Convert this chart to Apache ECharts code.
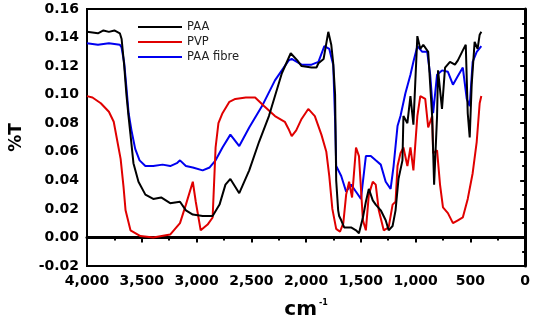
<!DOCTYPE html>
<html>
<head>
<meta charset="utf-8">
<script src="https://cdn.jsdelivr.net/npm/echarts@6/dist/echarts.min.js"></script>
<style>
  html, body { margin: 0; padding: 0; background: #fff; }
  #chart { width: 533px; height: 325px; }
</style>
</head>
<body>
<div id="chart"></div>
<script>
// FTIR spectra, wavenumber (cm-1) vs transmittance
const paaWn = [4000, 3900, 3850, 3800, 3750, 3700, 3684, 3660, 3640, 3621, 3603, 3576, 3530, 3467, 3395, 3323, 3241, 3151, 3097, 3034, 2944, 2853, 2790, 2736, 2691, 2610, 2519, 2429, 2339, 2221, 2140, 2080, 2041, 1950, 1905, 1887, 1840, 1797, 1770, 1752, 1735, 1725, 1707, 1698, 1679, 1652, 1589, 1544, 1517, 1481, 1454, 1427, 1391, 1364, 1318, 1273, 1246, 1210, 1183, 1156, 1120, 1111, 1075, 1047, 1020, 984, 957, 930, 885, 849, 831, 804, 795, 759, 731, 686, 641, 614, 569, 542, 524, 506, 488, 461, 434, 415, 400];
const paaT = [0.144, 0.143, 0.145, 0.144, 0.145, 0.143, 0.139, 0.120, 0.100, 0.085, 0.072, 0.052, 0.039, 0.030, 0.027, 0.028, 0.024, 0.025, 0.019, 0.016, 0.015, 0.015, 0.023, 0.037, 0.041, 0.031, 0.047, 0.067, 0.085, 0.115, 0.129, 0.124, 0.120, 0.119, 0.119, 0.122, 0.125, 0.144, 0.135, 0.122, 0.100, 0.040, 0.019, 0.015, 0.012, 0.007, 0.007, 0.005, 0.003, 0.014, 0.025, 0.034, 0.026, 0.023, 0.019, 0.012, 0.005, 0.008, 0.019, 0.041, 0.054, 0.085, 0.080, 0.099, 0.079, 0.141, 0.132, 0.135, 0.130, 0.085, 0.037, 0.085, 0.117, 0.090, 0.119, 0.123, 0.121, 0.124, 0.131, 0.135, 0.087, 0.070, 0.107, 0.137, 0.132, 0.142, 0.144];

const pvpWn = [4000, 3950, 3874, 3800, 3756, 3693, 3666, 3648, 3603, 3512, 3395, 3241, 3151, 3097, 3034, 3007, 2962, 2899, 2853, 2826, 2800, 2763, 2700, 2646, 2550, 2465, 2384, 2284, 2194, 2160, 2131, 2090, 2041, 1980, 1920, 1860, 1815, 1788, 1760, 1725, 1690, 1660, 1634, 1607, 1580, 1544, 1517, 1481, 1454, 1427, 1391, 1364, 1336, 1291, 1246, 1210, 1183, 1165, 1138, 1111, 1075, 1047, 1020, 984, 957, 912, 885, 849, 840, 804, 777, 750, 705, 659, 614, 569, 524, 479, 442, 415, 400];
const pvpT = [0.099, 0.098, 0.094, 0.088, 0.081, 0.055, 0.035, 0.019, 0.005, 0.001, 0.000, 0.002, 0.010, 0.023, 0.039, 0.025, 0.005, 0.009, 0.014, 0.063, 0.080, 0.087, 0.095, 0.097, 0.098, 0.098, 0.092, 0.085, 0.081, 0.076, 0.071, 0.075, 0.083, 0.090, 0.085, 0.072, 0.060, 0.043, 0.020, 0.006, 0.004, 0.010, 0.030, 0.039, 0.028, 0.063, 0.057, 0.012, 0.005, 0.030, 0.039, 0.037, 0.019, 0.005, 0.007, 0.023, 0.025, 0.050, 0.059, 0.063, 0.050, 0.063, 0.047, 0.085, 0.099, 0.097, 0.077, 0.085, 0.059, 0.061, 0.037, 0.021, 0.017, 0.010, 0.012, 0.014, 0.027, 0.045, 0.067, 0.094, 0.099];

const fibreWn = [4000, 3900, 3800, 3700, 3684, 3660, 3640, 3620, 3594, 3560, 3520, 3467, 3395, 3310, 3240, 3180, 3151, 3097, 3034, 2944, 2880, 2826, 2763, 2691, 2610, 2519, 2402, 2284, 2158, 2131, 2041, 1950, 1887, 1833, 1788, 1752, 1734, 1725, 1679, 1634, 1589, 1544, 1499, 1454, 1409, 1364, 1318, 1273, 1228, 1201, 1165, 1138, 1093, 1047, 1020, 984, 939, 894, 867, 840, 804, 759, 705, 659, 614, 569, 533, 506, 479, 442, 400];
const fibreT = [0.136, 0.135, 0.136, 0.135, 0.133, 0.122, 0.105, 0.087, 0.075, 0.062, 0.054, 0.050, 0.050, 0.051, 0.050, 0.052, 0.054, 0.050, 0.049, 0.047, 0.049, 0.054, 0.063, 0.072, 0.064, 0.077, 0.092, 0.110, 0.124, 0.125, 0.121, 0.121, 0.123, 0.134, 0.132, 0.121, 0.080, 0.050, 0.043, 0.032, 0.037, 0.032, 0.027, 0.057, 0.057, 0.054, 0.051, 0.039, 0.034, 0.050, 0.078, 0.085, 0.101, 0.114, 0.123, 0.134, 0.130, 0.130, 0.114, 0.087, 0.114, 0.117, 0.116, 0.107, 0.113, 0.119, 0.097, 0.092, 0.123, 0.130, 0.134];

const seriesNames = ['PAA', 'PVP', 'PAA fibre'];
const seriesColors = ['#000000', '#e00000', '#0000f0'];

const pairs = (xs, ys) => xs.map((x, i) => [x, ys[i]]);
const spectra = [pairs(paaWn, paaT), pairs(pvpWn, pvpT), pairs(fibreWn, fibreT)];

const font = '"DejaVu Sans", sans-serif';
const chart = echarts.init(document.getElementById('chart'));

chart.setOption({
  animation: false,
  backgroundColor: '#fff',
  grid: {
    left: 84, right: 7, top: 9, bottom: 47,
    show: true, borderColor: '#000', borderWidth: 2
  },
  legend: {
    orient: 'vertical',
    left: 133, top: 16,
    icon: 'rect',
    itemWidth: 44, itemHeight: 2, itemGap: 3,
    textStyle: { fontFamily: font, fontSize: 11.5, color: '#222' },
    data: seriesNames
  },
  xAxis: {
    type: 'value',
    inverse: true,
    min: 0, max: 4000, interval: 500,
    name: 'cm{sup|-1}',
    nameLocation: 'middle',
    nameGap: 33,
    nameTextStyle: {
      fontFamily: font, fontSize: 20, fontWeight: 'bold', color: '#000',
      rich: { sup: { fontFamily: font, fontSize: 8, fontWeight: 'bold', verticalAlign: 'top', padding: [0, 0, 14, 2] } }
    },
    axisLine: { lineStyle: { color: '#000', width: 3 } },
    axisTick: { inside: false, length: 5, lineStyle: { width: 2 } },
    minorTick: { show: true, splitNumber: 2, length: 3, lineStyle: { color: '#000', width: 2 } },
    splitLine: { show: false },
    axisLabel: { margin: 8, fontFamily: font, fontSize: 14, fontWeight: 'bold', color: '#000' }
  },
  yAxis: {
    type: 'value',
    min: -0.02, max: 0.16, interval: 0.02,
    name: '%T',
    nameLocation: 'middle',
    nameRotate: 90,
    nameGap: 62,
    nameTextStyle: { fontFamily: font, fontSize: 17, fontWeight: 'bold', color: '#000' },
    axisLine: { lineStyle: { color: '#000', width: 3 } },
    axisTick: { inside: false, length: 5, lineStyle: { width: 2 } },
    minorTick: { show: true, splitNumber: 2, length: 3, lineStyle: { color: '#000', width: 2 } },
    splitLine: { show: false },
    axisLabel: {
      margin: 8, fontFamily: font, fontSize: 14, fontWeight: 'bold', color: '#000',
      formatter: v => v.toFixed(2)
    }
  },
  series: seriesNames.map((name, i) => ({
    name,
    type: 'line',
    data: spectra[i],
    showSymbol: false,
    symbol: 'none',
    lineStyle: { width: 2, color: seriesColors[i] },
    itemStyle: { color: seriesColors[i] },
    z: 3 - i
  }))
});
</script>
</body>
</html>
